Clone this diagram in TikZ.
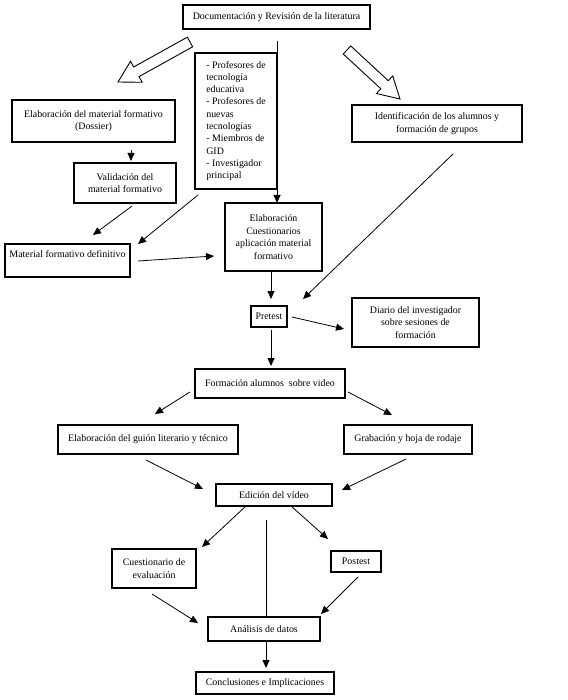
\documentclass[tikz,border=0pt]{standalone}
\usepackage{fontspec}
\setmainfont{Liberation Serif}
\usetikzlibrary{arrows.meta,calc}
\tikzset{
  box/.style={draw, line width=1.1pt, inner sep=0pt, align=center,
    font=\fontsize{9.9}{12.5}\selectfont},
  arr/.style={line width=0.8pt, -{Triangle[length=8pt,width=7pt]}},
  plainline/.style={line width=0.8pt},
  hollow/.style={draw, line width=0.9pt, fill=white, line join=miter},
}
\newcommand\hollowarrow[2]{%
  \coordinate (#1-b) at ($(#2)!21pt!(#1)$);
  \draw[hollow] ($(#1)!5.5pt!90:(#2)$) -- ($(#1-b)!5.5pt!90:(#2)$)
    -- ($(#1-b)!12pt!90:(#2)$) -- (#2) -- ($(#1-b)!12pt!-90:(#2)$)
    -- ($(#1-b)!5.5pt!-90:(#2)$) -- ($(#1)!5.5pt!-90:(#2)$) -- cycle;}
\begin{document}
\begin{tikzpicture}[x=1pt,y=-1pt]
\useasboundingbox[fill=white] (0,0) rectangle (567,700);

% boxes
\node[box, minimum width=187pt, minimum height=24pt] (doc) at (276.5,17) {Documentación y Revisión de la literatura};
\node[box, minimum width=163pt, minimum height=42pt] (doss) at (93.5,121) {Elaboración del material formativo\\(Dossier)};
\node[box, minimum width=82pt, minimum height=136pt, align=left,
      font=\fontsize{9.9}{12.3}\selectfont] (list) at (236,121)
  {- Profesores de\\tecnología\\educativa\\- Profesores de\\nuevas\\tecnologías\\- Miembros de\\GID\\- Investigador\\principal};
\node[box, minimum width=170pt, minimum height=37pt] (ident) at (437,123.5) {Identificación de los alumnos y\\formación de grupos};
\node[box, minimum width=102pt, minimum height=40pt] (valid) at (125,183) {Validación del\\material formativo};
\node[box, minimum width=97pt, minimum height=68pt] (cuest) at (273.5,237) {Elaboración\\Cuestionarios\\aplicación material\\formativo};
\node[box, minimum width=125pt, text height=14pt, text depth=19pt] (matdef) at (67.5,260.5) {Material formativo definitivo};
\node[box, minimum width=36pt, minimum height=21pt] (pre) at (269,316.5) {Pretest};
\node[box, minimum width=127pt, minimum height=49pt] (diario) at (415.5,322.5) {Diario del investigador\\sobre sesiones de\\formación};
\node[box, minimum width=150pt, minimum height=29pt] (form) at (270,383.5) {Formación alumnos\ \ sobre video};
\node[box, minimum width=180pt, minimum height=29pt] (guion) at (148,439.5) {Elaboración del guión literario y técnico};
\node[box, minimum width=128pt, minimum height=29pt] (grab) at (408,439.5) {Grabación y hoja de rodaje};
\node[box, minimum width=116pt, minimum height=22pt] (edic) at (274,495) {Edición del vídeo};
\node[box, minimum width=84pt, minimum height=39pt] (evalq) at (154,568.5) {Cuestionario de\\evaluación};
\node[box, minimum width=50pt, minimum height=21pt] (post) at (356,561.5) {Postest};
\node[box, minimum width=112pt, minimum height=24pt] (anal) at (264,629) {Análisis de datos};
\node[box, minimum width=138pt, minimum height=22pt] (concl) at (265,683) {Conclusiones e Implicaciones};

% connector end points
\coordinate (hl-s) at (190,42);  \coordinate (hl-t) at (118,82);
\coordinate (hr-s) at (347,50);  \coordinate (hr-t) at (400,99);
\coordinate (v1-s) at (277,41);  \coordinate (v1-t) at (277,203);
\coordinate (a1-s) at (131,150); \coordinate (a1-t) at (131,161);
\coordinate (a2-s) at (132,206); \coordinate (a2-t) at (93,235);
\coordinate (a3-s) at (198,195); \coordinate (a3-t) at (138,244);
\coordinate (a4-s) at (138,261); \coordinate (a4-t) at (214,256);
\coordinate (a5-s) at (271,272); \coordinate (a5-t) at (271,299);
\coordinate (a6-s) at (453,154); \coordinate (a6-t) at (303,299);
\coordinate (a7-s) at (292,317); \coordinate (a7-t) at (344,329);
\coordinate (a8-s) at (271,330); \coordinate (a8-t) at (271,366);
\coordinate (a9-s) at (190,392); \coordinate (a9-t) at (155,414);
\coordinate (a10-s) at (348,392); \coordinate (a10-t) at (392,415);
\coordinate (a11-s) at (146,460); \coordinate (a11-t) at (203,489);
\coordinate (a12-s) at (406,459); \coordinate (a12-t) at (342,490);
\coordinate (a13-s) at (246,506); \coordinate (a13-t) at (202,547);
\coordinate (a14-s) at (291,506); \coordinate (a14-t) at (328,539);
\coordinate (v2-s) at (266,520);
\coordinate (a15-s) at (152,594); \coordinate (a15-t) at (198,623);
\coordinate (a16-s) at (358,577); \coordinate (a16-t) at (321,614);
\coordinate (a17-s) at (266,641); \coordinate (a17-t) at (266,668);

% hollow arrows
\hollowarrow{hl-s}{hl-t}
\hollowarrow{hr-s}{hr-t}

% connectors
\draw[arr] (v1-s) -- (v1-t);
\draw[arr] (a1-s) -- (a1-t);
\draw[arr] (a2-s) -- (a2-t);
\draw[arr] (a3-s) -- (a3-t);
\draw[arr] (a4-s) -- (a4-t);
\draw[arr] (a5-s) -- (a5-t);
\draw[arr] (a6-s) -- (a6-t);
\draw[arr] (a7-s) -- (a7-t);
\draw[arr] (a8-s) -- (a8-t);
\draw[arr] (a9-s) -- (a9-t);
\draw[arr] (a10-s) -- (a10-t);
\draw[arr] (a11-s) -- (a11-t);
\draw[arr] (a12-s) -- (a12-t);
\draw[arr] (a13-s) -- (a13-t);
\draw[arr] (a14-s) -- (a14-t);
\draw[plainline] (v2-s) -- (anal.north -| v2-s);
\draw[arr] (a15-s) -- (a15-t);
\draw[arr] (a16-s) -- (a16-t);
\draw[arr] (a17-s) -- (a17-t);
\end{tikzpicture}
\end{document}
